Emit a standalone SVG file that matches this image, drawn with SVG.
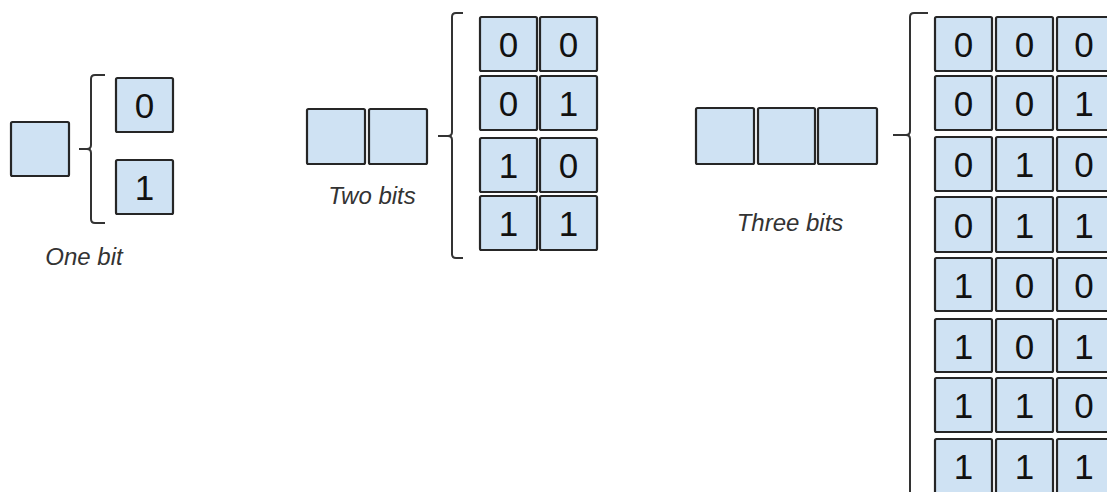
<svg xmlns="http://www.w3.org/2000/svg" width="1107" height="492" viewBox="0 0 1107 492">
<style>
.b{fill:#cfe2f3;stroke:#262626;stroke-width:2.2}
.d{font-family:"Liberation Sans",Arial,sans-serif;font-size:35px;fill:#111;text-anchor:middle}
.l{font-family:"Liberation Sans",Arial,sans-serif;font-size:24px;font-style:italic;fill:#333;text-anchor:middle}
.br{fill:none;stroke:#333;stroke-width:2}
</style>
<rect width="1107" height="492" fill="#fff"/>
<g id="one-bit">
<rect class="b" x="11" y="122" width="58" height="54" rx="1.5"/>
<path class="br" d="M105,75 H95 Q91,75 91,79 V145 Q91,149 87,149 H79 M87,149 Q91,149 91,153 V219 Q91,223 95,223 H105"/>
<rect class="b" x="116" y="78" width="57" height="54" rx="1.5"/>
<text class="d" x="144.5" y="118">0</text>
<rect class="b" x="116" y="160" width="57" height="54" rx="1.5"/>
<text class="d" x="144.5" y="200">1</text>
<text class="l" x="84" y="265">One bit</text>
</g>
<g id="two-bits">
<rect class="b" x="307" y="109" width="58" height="55" rx="1.5"/>
<rect class="b" x="369" y="109" width="58" height="55" rx="1.5"/>
<path class="br" d="M463,13 H456 Q452,13 452,17 V132 Q452,136 448,136 H438 M448,136 Q452,136 452,140 V254 Q452,258 456,258 H463"/>
<g>
<rect class="b" x="480" y="17" width="57" height="54" rx="1.5"/><text class="d" x="508.5" y="57">0</text>
<rect class="b" x="540" y="17" width="57" height="54" rx="1.5"/><text class="d" x="568.5" y="57">0</text>
<rect class="b" x="480" y="76" width="57" height="54" rx="1.5"/><text class="d" x="508.5" y="116">0</text>
<rect class="b" x="540" y="76" width="57" height="54" rx="1.5"/><text class="d" x="568.5" y="116">1</text>
<rect class="b" x="480" y="138" width="57" height="54" rx="1.5"/><text class="d" x="508.5" y="178">1</text>
<rect class="b" x="540" y="138" width="57" height="54" rx="1.5"/><text class="d" x="568.5" y="178">0</text>
<rect class="b" x="480" y="196" width="57" height="54" rx="1.5"/><text class="d" x="508.5" y="236">1</text>
<rect class="b" x="540" y="196" width="57" height="54" rx="1.5"/><text class="d" x="568.5" y="236">1</text>
</g>
<text class="l" x="372" y="204">Two bits</text>
</g>
<g id="three-bits">
<rect class="b" x="696" y="108" width="58" height="56" rx="1.5"/>
<rect class="b" x="758" y="108" width="57" height="56" rx="1.5"/>
<rect class="b" x="818" y="108" width="59" height="56" rx="1.5"/>
<path class="br" d="M928,13 H914 Q910,13 910,17 V131 Q910,135 906,135 H893 M906,135 Q910,135 910,139 V495"/>
<g>
<rect class="b" x="935" y="17" width="57" height="54" rx="1.5"/><text class="d" x="963.5" y="57">0</text>
<rect class="b" x="996" y="17" width="57" height="54" rx="1.5"/><text class="d" x="1024.5" y="57">0</text>
<rect class="b" x="1057" y="17" width="57" height="54" rx="1.5"/><text class="d" x="1084" y="57">0</text>
<rect class="b" x="935" y="76" width="57" height="54" rx="1.5"/><text class="d" x="963.5" y="116">0</text>
<rect class="b" x="996" y="76" width="57" height="54" rx="1.5"/><text class="d" x="1024.5" y="116">0</text>
<rect class="b" x="1057" y="76" width="57" height="54" rx="1.5"/><text class="d" x="1084" y="116">1</text>
<rect class="b" x="935" y="137" width="57" height="54" rx="1.5"/><text class="d" x="963.5" y="177">0</text>
<rect class="b" x="996" y="137" width="57" height="54" rx="1.5"/><text class="d" x="1024.5" y="177">1</text>
<rect class="b" x="1057" y="137" width="57" height="54" rx="1.5"/><text class="d" x="1084" y="177">0</text>
<rect class="b" x="935" y="197" width="57" height="55" rx="1.5"/><text class="d" x="963.5" y="237.5">0</text>
<rect class="b" x="996" y="197" width="57" height="55" rx="1.5"/><text class="d" x="1024.5" y="237.5">1</text>
<rect class="b" x="1057" y="197" width="57" height="55" rx="1.5"/><text class="d" x="1084" y="237.5">1</text>
<rect class="b" x="935" y="258" width="57" height="53" rx="1.5"/><text class="d" x="963.5" y="297.5">1</text>
<rect class="b" x="996" y="258" width="57" height="53" rx="1.5"/><text class="d" x="1024.5" y="297.5">0</text>
<rect class="b" x="1057" y="258" width="57" height="53" rx="1.5"/><text class="d" x="1084" y="297.5">0</text>
<rect class="b" x="935" y="319" width="57" height="53" rx="1.5"/><text class="d" x="963.5" y="358.5">1</text>
<rect class="b" x="996" y="319" width="57" height="53" rx="1.5"/><text class="d" x="1024.5" y="358.5">0</text>
<rect class="b" x="1057" y="319" width="57" height="53" rx="1.5"/><text class="d" x="1084" y="358.5">1</text>
<rect class="b" x="935" y="378" width="57" height="54" rx="1.5"/><text class="d" x="963.5" y="418">1</text>
<rect class="b" x="996" y="378" width="57" height="54" rx="1.5"/><text class="d" x="1024.5" y="418">1</text>
<rect class="b" x="1057" y="378" width="57" height="54" rx="1.5"/><text class="d" x="1084" y="418">0</text>
<rect class="b" x="935" y="439" width="57" height="60" rx="1.5"/><text class="d" x="963.5" y="479">1</text>
<rect class="b" x="996" y="439" width="57" height="60" rx="1.5"/><text class="d" x="1024.5" y="479">1</text>
<rect class="b" x="1057" y="439" width="57" height="60" rx="1.5"/><text class="d" x="1084" y="479">1</text>
</g>
<text class="l" x="790" y="231">Three bits</text>
</g>
</svg>
